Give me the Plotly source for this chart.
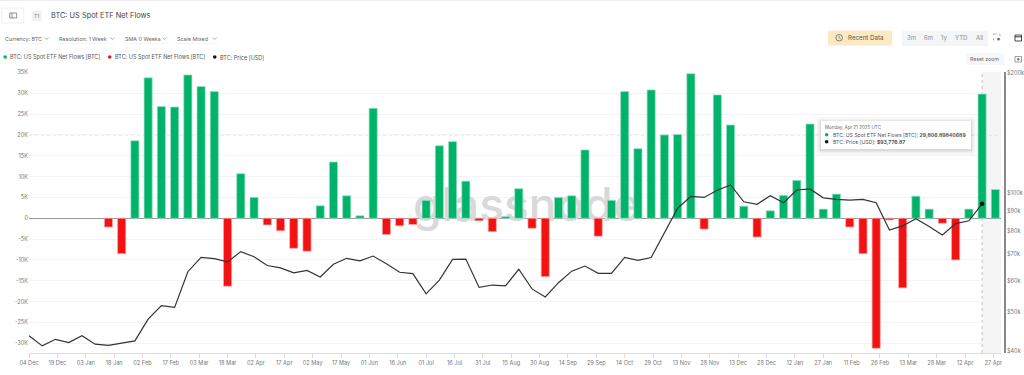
import plotly.graph_objects as go
import pandas as pd

START = "2023-12-04"
flows_k = [0, 0, 0, 0, 0, 0, -2.1, -8.5, 18.6, 33.7, 26.8, 26.7, 34.4, 31.6, 30.4, -16.3,
           10.7, 5.0, -1.6, -3.0, -7.2, -7.9, 3.0, 13.5, 5.4, 0.6, 26.4, -3.9, -1.8, -1.5,
           4.3, 17.4, 18.4, 8.9, -0.6, -3.2, 0.4, 7.1, -2.4, -14.0, 5.0, 5.4, 16.4, -4.3,
           4.3, 30.4, 16.7, 30.8, 20.0, 20.1, 34.7, -2.6, 29.6, 22.4, 2.9, -4.5, 1.8, 5.5,
           9.1, 22.6, 2.2, 5.8, -2.1, -8.5, -31.2, -0.4, -16.7, 5.3, 2.2, -1.2, -10.0, 2.2,
           29.8, 6.9]
price_k = [43.7, 41.2, 42.8, 42.0, 43.7, 41.6, 41.3, 41.8, 42.4, 48.1, 52.0, 51.5, 63.3, 68.8,
           68.3, 67.0, 71.1, 69.0, 65.6, 64.7, 62.9, 63.8, 61.4, 66.1, 68.4, 67.4, 69.3, 66.3,
           63.1, 62.6, 55.7, 60.3, 68.0, 68.1, 57.8, 58.6, 58.3, 64.2, 57.3, 54.7, 59.4, 63.5,
           65.4, 62.7, 62.7, 68.8, 67.6, 68.7, 79.5, 91.4, 97.9, 97.3, 101.4, 104.6, 94.9, 93.5,
           98.3, 94.4, 101.6, 102.2, 97.1, 96.2, 95.8, 96.2, 94.4, 80.6, 82.5, 86.0, 82.2, 78.3,
           83.6, 85.0, 93.78, None]
x_tick_labels = ["04 Dec", "19 Dec", "03 Jan", "18 Jan", "02 Feb", "17 Feb", "03 Mar", "18 Mar", "02 Apr",
                 "17 Apr", "02 May", "17 May", "01 Jun", "16 Jun", "01 Jul", "16 Jul", "31 Jul", "15 Aug",
                 "30 Aug", "14 Sep", "29 Sep", "14 Oct", "29 Oct", "13 Nov", "28 Nov", "13 Dec", "28 Dec",
                 "12 Jan", "27 Jan", "11 Feb", "26 Feb", "13 Mar", "28 Mar", "12 Apr", "27 Apr"]
left_ticks = [35, 30, 25, 20, 15, 10, 5, 0, -5, -10, -15, -20, -25, -30]
right_ticks = [200, 100, 90, 80, 70, 60, 50, 40]

FONT = "Inter"
GREEN, RED, BLACK = "#00b36b", "#f21212", "#333333"
GREY = "#777777"
W, H = 1024, 375
L, R, T, B = 29.3, 19, 72, 22
PW, PH = W - L - R, H - T - B

dates = pd.date_range(START, periods=len(flows_k), freq="7D")
tickdates = pd.date_range(START, periods=len(x_tick_labels), freq="15D")
green = [v * 1000 if v > 0 else None for v in flows_k]
red = [v * 1000 if v < 0 else None for v in flows_k]
price = [None if p is None else p * 1000 for p in price_k]
hover_date = dates[72]

def px(x): return (x - L) / PW
def py(y): return 1 - (y - T) / PH

shapes, ann = [], []
def rect(x0, y0, x1, y1, fill, line=None, lw=0, op=1, layer="above", dash=None):
    shapes.append(dict(type="rect", xref="paper", yref="paper", x0=px(x0), x1=px(x1), y0=py(y0), y1=py(y1),
                       fillcolor=fill, opacity=op, layer=layer, line=dict(color=line or fill, width=lw, dash=dash or "solid")))
def circle(cx, cy, r, fill):
    shapes.append(dict(type="circle", xref="paper", yref="paper", x0=px(cx - r), x1=px(cx + r), y0=py(cy - r), y1=py(cy + r),
                       fillcolor=fill, line=dict(width=0)))
def seg(x0, y0, x1, y1, color, lw=0.8):
    shapes.append(dict(type="line", xref="paper", yref="paper", x0=px(x0), x1=px(x1), y0=py(y0), y1=py(y1),
                       line=dict(color=color, width=lw)))
def txt(x, y, s, size=6, color="#555555", anchor="left"):
    ann.append(dict(xref="paper", yref="paper", x=px(x), y=py(y), text=s, showarrow=False, xanchor=anchor, yanchor="middle",
                    borderpad=0, font=dict(family=FONT, size=size, color=color)))
def chevron(x, y, color="#777777"):
    seg(x - 2, y - 1, x, y + 1, color, 0.6)
    seg(x, y + 1, x + 2, y - 1, color, 0.6)

# page chrome
seg(0, 0.5, 1024, 0.5, "#eeeeee", 1)
rect(2, 8, 24, 23, "#ffffff", "#ececec", 0.8)
rect(10, 13, 17, 18, "#ffffff", "#666666", 0.7)
seg(12.3, 13, 12.3, 18, "#666666", 0.7)
rect(32, 11, 42, 21, "#eef0f2")
txt(37, 16, "T1", 5, "#888888", "center")
txt(50, 16, "BTC: US Spot ETF Net Flows", 7.4, "#444444")
for xs, xe, label, cx in [(4, 50, "Currency: BTC", 47), (58, 115, "Resolution: 1 Week", 112.7),
                          (124, 168, "SMA 0 Weeks", 165), (176, 219, "Scale Mixed", 215)]:
    txt(xs, 38.5, label, 5.4, "#666666")
    chevron(cx, 38.5)
    seg(xs, 43.5, xe, 43.5, "#f0f0f0", 0.7)
legend_colors = [(5.5, 9.3, GREEN, "BTC: US Spot ETF Net Flows [BTC]"), (110, 114, RED, "BTC: US Spot ETF Net Flows [BTC]"),
                 (215, 219, "#111111", "BTC: Price [USD]")]
for cx, tx, c, label in legend_colors:
    circle(cx, 57, 1.8, c)
    txt(tx, 57, label, 5.5, "#555555")
rect(828, 30.5, 892, 45.5, "#fbe9c4")
shapes.append(dict(type="circle", xref="paper", yref="paper", x0=px(836), x1=px(842.5), y0=py(34.5), y1=py(41),
                   line=dict(color="#555555", width=0.7)))
seg(839.2, 36, 839.2, 38, "#555555", 0.6)
seg(839.2, 38, 840.8, 39, "#555555", 0.6)
txt(847, 38, "Recent Data", 6.2, "#5c5548")
rect(902, 30.5, 988, 46, "#f3f5f7")
for cx, s in [(912, "3m"), (929, "6m"), (944, "1y"), (961.5, "YTD"), (979.5, "All")]:
    txt(cx, 38, s, 6, "#8a8f94", "center")
rect(993.5, 34, 1000, 40, "#ffffff", "#888888", 0.6, dash="dot")
circle(998.5, 39, 1.3, "#666666")
rect(1010, 33, 1024, 46, "#ffffff", "#f2f2f2", 0.6)
rect(1015, 35, 1021.5, 41, "#ffffff", "#333333", 0.9)
seg(1015, 36.8, 1021.5, 36.8, "#333333", 1)
rect(966, 53, 1004, 65, "#f5f8fa")
txt(985, 59, "Reset zoom", 5.2, "#666666", "center")
rect(1015, 56.5, 1021.5, 62, "#ffffff", "#777777", 0.7)
circle(1018.2, 59.2, 1.2, "#777777")

# hover highlight: below the bars
shapes.append(dict(type="rect", xref="x", yref="paper", x0=hover_date, x1=pd.Timestamp("2025-05-01"), y0=0, y1=1,
                   fillcolor="#f5f5f5", line=dict(width=0), layer="below"))
shapes.append(dict(type="line", xref="x", yref="paper", x0=hover_date, x1=hover_date, y0=0, y1=1,
                   layer="below", line=dict(color="#aaaaaa", width=0.7, dash="dot")))
shapes.append(dict(type="line", xref="paper", yref="y2", x0=0, x1=px(1001), y0=20000, y1=20000,
                   layer="below", line=dict(color="#bbbbbb", width=0.6, dash="dot")))
# tooltip
for g, op in [(5, 0.02), (3.5, 0.03), (2, 0.04), (1, 0.05)]:
    rect(821 - g, 121 - g + 1, 971 + g, 149 + g + 1, "#000000", op=op)
rect(821, 121, 971, 149, "#ffffff")
txt(824.3, 127.5, "Monday, Apr 21 2025 UTC", 4.5, "#666666")
circle(826.7, 134.7, 1.8, GREEN)
txt(832, 134.7, "BTC: US Spot ETF Net Flows [BTC]: <b>29,806.89840689</b>", 5.1, "#555555")
circle(826.7, 141.8, 1.8, "#111111")
txt(832, 141.8, "BTC: Price [USD]: <b>$93,776.87</b>", 5.1, "#555555")

fig = go.Figure()
# watermark lives on the lowest overlay so that the bars paint over it
fig.add_trace(go.Scatter(x=[pd.Timestamp("2024-08-23")], y=[0.51], mode="text", text=["glassnode"], xaxis="x", yaxis="y",
                         textfont=dict(family=FONT, size=46, color="#d9d9d9", weight=500), hoverinfo="skip", showlegend=False))
bar_w = 4.3 * 86400000
fig.add_trace(go.Bar(x=dates, y=green, width=bar_w, marker=dict(color=GREEN, line=dict(color="#9fe0c4", width=0.7)),
                     xaxis="x", yaxis="y2", showlegend=False))
fig.add_trace(go.Bar(x=dates, y=red, width=bar_w, marker=dict(color=RED, line=dict(color="#f9a9a9", width=0.7)),
                     xaxis="x", yaxis="y2", showlegend=False))
fig.add_trace(go.Scatter(x=dates, y=price, mode="lines", line=dict(color=BLACK, width=1.2), xaxis="x", yaxis="y3",
                         connectgaps=False, showlegend=False))
fig.add_trace(go.Scatter(x=[hover_date], y=[price[72]], mode="markers", marker=dict(color="#111111", size=4.5),
                         xaxis="x", yaxis="y3", showlegend=False))

tick_font = dict(family=FONT, size=5.6, color=GREY)
fig.update_layout(
    width=W, height=H, autosize=False, margin=dict(l=L, r=R, t=T, b=B, pad=0, autoexpand=False),
    paper_bgcolor="#ffffff", plot_bgcolor="#ffffff", barmode="overlay", showlegend=False,
    shapes=shapes, annotations=ann, hovermode=False,
    xaxis=dict(domain=[0, px(1001)], type="date", range=[START, "2025-05-01"], tickvals=list(tickdates), ticktext=x_tick_labels,
               tickangle=0, tickfont=tick_font, showgrid=False, showline=True, linecolor="#dddddd", linewidth=1,
               ticks="outside", ticklen=4, tickwidth=0.7, tickcolor="#dddddd", zeroline=False),
    yaxis=dict(domain=[0, 1], range=[0, 1], visible=False, fixedrange=True),
    yaxis2=dict(overlaying="y", side="left", anchor="x", range=[-32330, 35100], tickvals=[v * 1000 for v in left_ticks],
                ticktext=[f"{v}K" if v else "0" for v in left_ticks], tickfont=tick_font, ticks="", showline=False,
                showgrid=True, gridcolor="#f3f3f3", gridwidth=0.8, zeroline=True, zerolinecolor="#999999", zerolinewidth=1.4),
    yaxis3=dict(overlaying="y", side="right", anchor="free", position=1, type="log", range=[4.597, 5.3035],
                tickvals=[v * 1000 for v in right_ticks], ticktext=[f"${v}k" for v in right_ticks], tickfont=tick_font,
                ticks="", showgrid=False, showline=True, linecolor="#888888", linewidth=1.6, zeroline=False),
)
fig.write_html("out.html", config=dict(displayModeBar=False),
               post_script="document.body.style.margin='0';document.body.style.overflow='hidden';")
